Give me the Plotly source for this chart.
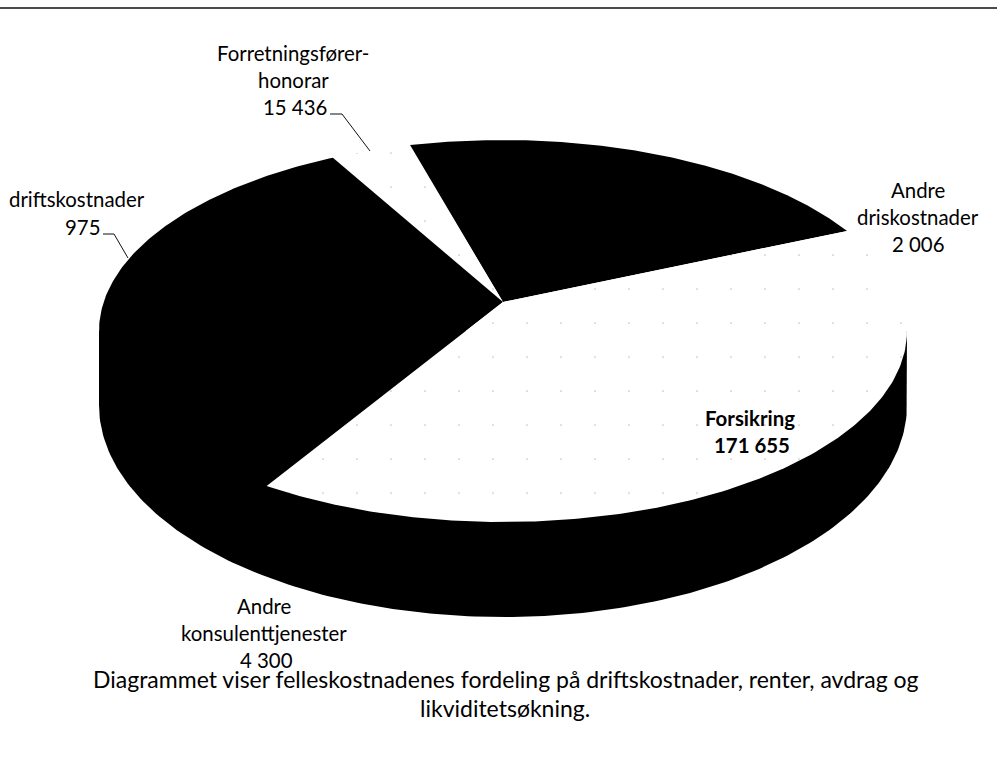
import numpy as np
import plotly.graph_objects as go

# Slices as they appear on the disc (degrees of the disc,
# going anticlockwise from the first listed slice's start)
slice_names = ["Andre driftsposter", "Forretningsførerhonorar", "Konsulenter og drift", "Forsikring"]
slice_degrees = [71.7, 11.6, 119.3, 157.4]
slice_is_light = [False, True, False, True]
start_degree = 31.6

# Printed labels
label_lines = [
    ["Forretningsfører-", "honorar", "15 436"],
    ["driftskostnader", "975"],
    ["Andre", "driskostnader", "2 006"],
    ["Forsikring", "171 655"],
    ["Andre", "konsulenttjenester", "4 300"],
]
label_x = [[293, 293, 295], [77, 82], [918, 918, 918], [750, 752], [264, 264, 266]]
label_y = [[53, 80, 107], [199, 227], [190, 217, 244], [418, 445], [606, 633, 660]]
label_bold = [False, False, False, True, False]
caption_lines = ["Diagrammet viser felleskostnadenes fordeling på driftskostnader, renter, avdrag og",
                 "likviditetsøkning."]
caption_y = [679, 708]

# Leader lines
leaders_x = [[330, 342, 370], [103, 114, 128]]
leaders_y = [[114, 114, 151], [234, 234, 258]]

# Disc geometry
CX, CY, RX, RY = 503, 331, 404, 191      # top ellipse
TIP_Y = 302                              # pie centre in perspective
BY, BRY = 405, 212                       # lower rim ellipse


def rim(a0, a1, cy=CY, ry=RY):
    t = np.radians(np.linspace(a0, a1, 200))
    return CX + RX * np.cos(t), cy - ry * np.sin(t)


fig = go.Figure()

# side wall: its upper edge runs under the slices so that no seam shows
xb, yb = rim(360, 180, BY, BRY)
fig.add_trace(go.Scatter(x=np.r_[CX + RX, xb, CX - RX], y=np.r_[CY, yb, CY], mode="lines", fill="toself",
                         fillcolor="black", line=dict(color="black", width=0),
                         hoverinfo="skip", showlegend=False))

# top slices, from the degree values
a = start_degree
for name, deg, light in zip(slice_names, slice_degrees, slice_is_light):
    x, y = rim(a, a + deg)
    px = np.r_[CX, x, CX]
    py = np.r_[TIP_Y, y, TIP_Y]
    kw = dict(fillcolor="white",
              fillpattern=dict(shape=".", size=34, solidity=0.002, fgcolor="#8a8a8a", bgcolor="white")
              ) if light else dict(fillcolor="black")
    fig.add_trace(go.Scatter(x=px, y=py, mode="lines", fill="toself",
                             line=dict(color="white" if light else "black", width=0),
                             name=name, hoverinfo="name", showlegend=False, **kw))
    a += deg

# leader lines
for lx, ly in zip(leaders_x, leaders_y):
    fig.add_trace(go.Scatter(x=lx, y=ly, mode="lines", line=dict(color="#111", width=1),
                             hoverinfo="skip", showlegend=False))

FONT = "Lato, Carlito, sans-serif"
for lines, xs, ys, bold in zip(label_lines, label_x, label_y, label_bold):
    for t, x, y in zip(lines, xs, ys):
        fig.add_annotation(x=x, y=y, text=f"<b>{t}</b>" if bold else t, showarrow=False,
                           xanchor="center", yanchor="middle",
                           font=dict(family=FONT, size=20.4, color="black"))
for t, y in zip(caption_lines, caption_y):
    fig.add_annotation(x=505, y=y, text=t, showarrow=False, xanchor="center", yanchor="middle",
                       font=dict(family=FONT, size=23, color="black"))

fig.add_shape(type="line", x0=0, x1=997, y0=8, y1=8, line=dict(color="#111", width=1.5))

fig.update_layout(
    width=997, height=758, autosize=False,
    margin=dict(l=0, r=0, t=0, b=0),
    paper_bgcolor="white", plot_bgcolor="white",
    xaxis=dict(range=[0, 997], visible=False, fixedrange=True),
    yaxis=dict(range=[758, 0], visible=False, fixedrange=True),
)
fig.write_html("out.html", config=dict(displayModeBar=False),
               post_script="document.body.style.margin='0';")
